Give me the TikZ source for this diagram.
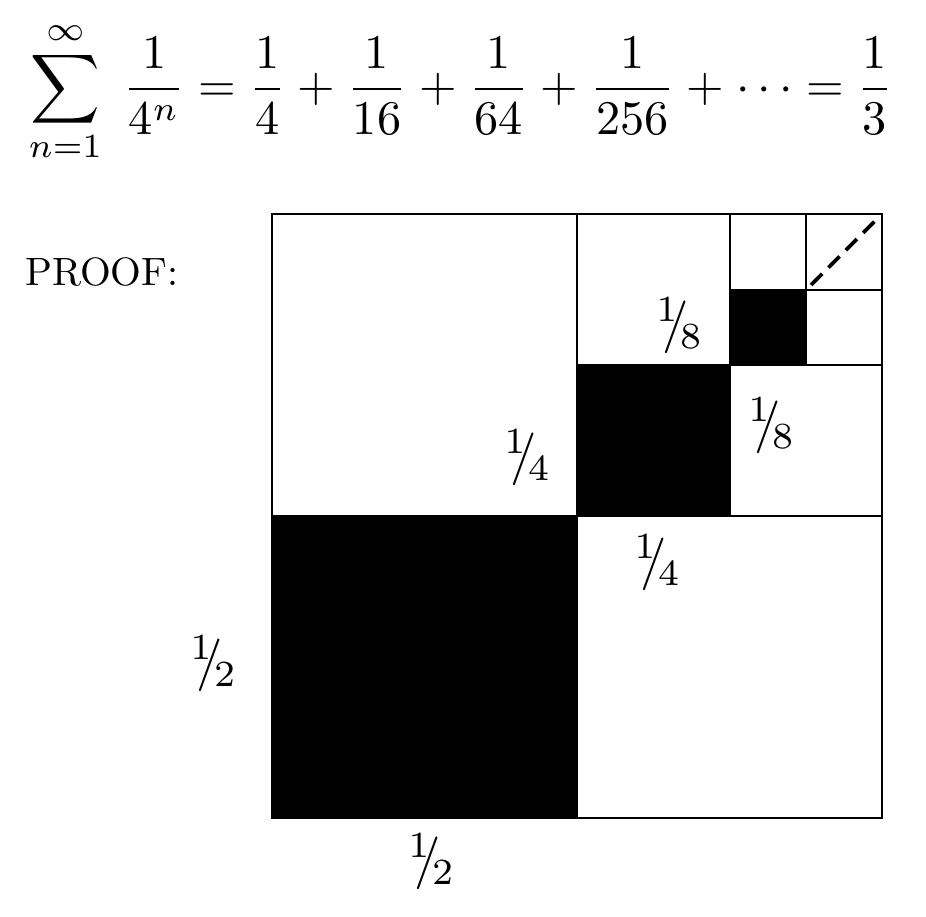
\documentclass[tikz,border=0pt]{standalone}
\usepackage{amsmath}
\newcommand{\slfrac}[2]{$^{#1}\!\!/\!_{#2}$}

\begin{document}
\begin{tikzpicture}[x=0.02cm,y=-0.02cm,line width=1.6pt,
    piece/.style={scale=3},
    tail/.style={line width=2.2pt,dash pattern=on 9pt off 5pt}]

	\useasboundingbox (0,0) rectangle (926,916);

	% the series
	\node (series) at (25,92) [anchor=west,scale=2.75,inner sep=0pt]
	    {$\medmuskip=4.5mu\thickmuskip=5mu\displaystyle\sum_{n=1}^{\infty}\;\frac{1}{4^n}=\frac{1}{4}+\frac{1}{16}+\frac{1}{64}+\frac{1}{256}+\cdots=\frac{1}{3}$};
	\node (proof) at (22,272) [anchor=west,scale=2.25,inner sep=0pt] {PROOF:};

	% shaded squares
	\fill (272,516) rectangle (577,818);
	\fill (577,365) rectangle (730,516);
	\fill (730,290) rectangle (806,365);

	% the grid
	\draw (272,214) rectangle (882,818);
	\draw (577,214) -- (577,818);
	\draw (272,516) -- (882,516);
	\draw (730,214) -- (730,516);
	\draw (577,365) -- (882,365);
	\draw (806,214) -- (806,365);
	\draw (730,290) -- (882,290);

	\coordinate (tailA) at (811,285);
	\coordinate (tailB) at (877,219);
	\draw [tail] (tailA) -- (tailB);

	% the sides
	\node (eighthA) at (680,326) [piece] {\slfrac{1}{8}};
	\node (eighthB) at (772,426) [piece] {\slfrac{1}{8}};
	\node (quarterA) at (528,458) [piece] {\slfrac{1}{4}};
	\node (quarterB) at (658,563) [piece] {\slfrac{1}{4}};
	\node (halfA) at (214,664) [piece] {\slfrac{1}{2}};
	\node (halfB) at (432,862) [piece] {\slfrac{1}{2}};

\end{tikzpicture}
\end{document}
